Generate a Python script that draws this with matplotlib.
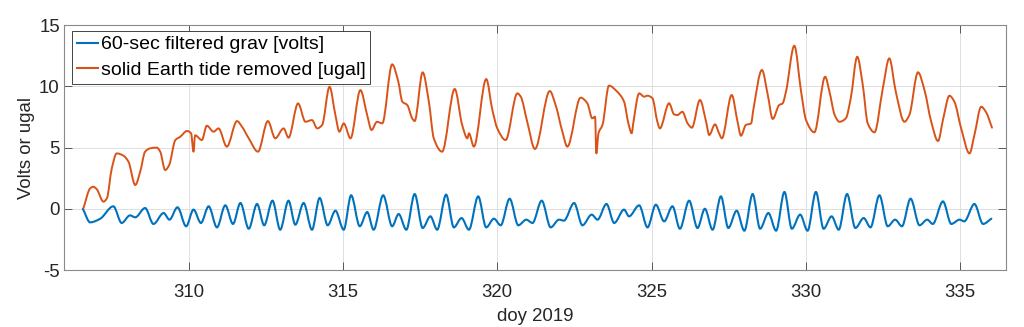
import numpy as np
import matplotlib
matplotlib.use("Agg")
import matplotlib.pyplot as plt
from matplotlib.path import Path
from matplotlib.patches import PathPatch
from matplotlib.lines import Line2D

# day of year / value pairs (turning points)
grav_day = [306.56, 306.80, 307.12, 307.55, 307.82, 308.09, 308.26, 308.58, 308.85, 309.18,
            309.37, 309.63, 309.91, 310.15, 310.39, 310.64, 310.91, 311.18, 311.43, 311.67,
            311.94, 312.21, 312.44, 312.71, 312.96, 313.23, 313.45, 313.72, 313.99, 314.24,
            314.50, 314.75, 315.02, 315.26, 315.54, 315.78, 315.99, 316.30, 316.59, 316.80,
            317.05, 317.32, 317.58, 317.83, 318.05, 318.34, 318.59, 318.84, 319.08, 319.38,
            319.64, 319.89, 320.11, 320.40, 320.68, 320.94, 321.14, 321.44, 321.73, 322.00,
            322.16, 322.49, 322.76, 323.06, 323.25, 323.54, 323.79, 324.11, 324.27, 324.60,
            324.87, 325.14, 325.41, 325.68, 325.92, 326.22, 326.49, 326.73, 326.98, 327.25,
            327.49, 327.76, 328.01, 328.28, 328.52, 328.79, 329.04, 329.31, 329.55, 329.82,
            330.06, 330.33, 330.58, 330.84, 331.07, 331.34, 331.61, 331.88, 332.10, 332.39,
            332.66, 332.90, 333.12, 333.40, 333.69, 333.94, 334.12, 334.45, 334.72, 334.99,
            335.14, 335.47, 335.75, 336.02]
grav_volts = [0.00, -1.11, -0.82, 0.20, -1.16, -0.54, -0.70, 0.06, -1.24, -0.35,
              -0.89, 0.12, -1.43, -0.07, -1.16, 0.20, -1.52, 0.28, -1.24, 0.47,
              -1.63, 0.39, -1.35, 0.66, -1.71, 0.66, -1.30, 0.47, -1.71, 0.88,
              -1.35, -0.16, -1.71, 1.10, -1.43, -0.27, -1.71, 1.10, -1.43, -0.43,
              -1.71, 1.20, -1.57, -0.62, -1.71, 1.15, -1.52, -0.76, -1.71, 1.01,
              -1.52, -0.81, -1.35, 0.82, -1.35, -0.89, -1.16, 0.66, -1.52, -0.89,
              -0.97, 0.47, -1.35, -0.48, -0.89, 0.39, -1.16, -0.07, -0.62, 0.28,
              -1.52, 0.33, -1.03, 0.20, -1.63, 0.66, -1.57, 0.00, -1.71, 1.01,
              -1.57, -0.16, -1.79, 1.20, -1.63, -0.35, -1.79, 1.37, -1.63, -0.48,
              -1.79, 1.37, -1.63, -0.62, -1.71, 1.20, -1.57, -0.76, -1.52, 1.10,
              -1.43, -0.89, -1.43, 0.82, -1.35, -0.89, -1.24, 0.60, -1.24, -0.89,
              -1.03, 0.39, -1.24, -0.81]

tide_day = [306.58, 306.80, 306.90, 307.01, 307.23, 307.34, 307.50, 307.66, 307.88, 308.04,
            308.26, 308.42, 308.58, 308.74, 308.96, 309.07, 309.23, 309.36, 309.56, 309.72,
            309.94, 310.07, 310.15, 310.20, 310.42, 310.58, 310.80, 310.96, 311.23, 311.56,
            311.72, 311.94, 312.24, 312.56, 312.80, 313.07, 313.23, 313.54, 313.78, 313.99,
            314.16, 314.32, 314.56, 314.75, 314.88, 315.02, 315.24, 315.56, 315.78, 315.92,
            316.10, 316.27, 316.59, 316.79, 316.92, 317.08, 317.24, 317.32, 317.58, 317.78,
            317.94, 318.21, 318.62, 318.86, 319.03, 319.08, 319.24, 319.64, 319.84, 320.00,
            320.27, 320.65, 320.76, 320.97, 321.22, 321.70, 321.89, 322.11, 322.27, 322.70,
            322.92, 323.08, 323.17, 323.21, 323.28, 323.41, 323.62, 323.87, 324.11, 324.25,
            324.36, 324.40, 324.60, 324.76, 324.87, 325.03, 325.19, 325.27, 325.57, 325.73,
            325.84, 326.00, 326.17, 326.31, 326.57, 326.77, 326.87, 327.06, 327.19, 327.28,
            327.60, 327.79, 327.90, 328.06, 328.23, 328.30, 328.58, 328.77, 328.93, 329.14,
            329.25, 329.36, 329.63, 329.85, 330.01, 330.28, 330.63, 330.77, 330.94, 331.09,
            331.30, 331.46, 331.67, 331.85, 332.01, 332.23, 332.50, 332.71, 332.92, 333.20,
            333.36, 333.64, 333.85, 334.07, 334.29, 334.46, 334.66, 334.82, 335.04, 335.31,
            335.47, 335.69, 335.85, 336.04]
tide_ugal = [0.04, 1.67, 1.80, 1.60, 0.58, 0.85, 3.30, 4.52, 4.33, 3.84,
             1.94, 3.02, 4.66, 4.93, 4.99, 4.66, 3.16, 3.57, 5.61, 5.88,
             6.35, 6.16, 4.66, 6.00, 5.61, 6.78, 6.29, 6.56, 5.07, 7.16,
             6.70, 5.75, 4.66, 7.16, 5.75, 6.56, 5.80, 8.60, 7.10, 7.24,
             6.56, 6.84, 9.96, 7.65, 6.29, 6.97, 5.75, 9.69, 7.65, 6.43,
             7.10, 6.97, 11.79, 10.37, 8.74, 8.47, 7.38, 7.16, 11.14, 8.74,
             5.75, 4.66, 9.78, 6.84, 5.75, 6.16, 5.07, 10.59, 8.06, 6.56,
             5.61, 9.42, 9.15, 7.10, 4.88, 9.61, 8.47, 6.29, 5.07, 9.07,
             8.61, 7.38, 7.52, 4.52, 6.16, 6.84, 10.05, 9.60, 8.74, 6.97,
             6.16, 6.84, 9.42, 9.15, 9.23, 9.02, 7.10, 6.56, 8.61, 7.71,
             7.65, 7.92, 6.97, 6.62, 8.88, 7.10, 6.02, 6.89, 6.16, 5.75,
             9.29, 7.10, 5.96, 6.84, 6.97, 8.06, 11.33, 9.29, 7.33, 8.47,
             8.60, 9.56, 13.31, 9.56, 7.24, 6.24, 10.78, 9.56, 7.65, 7.10,
             7.38, 9.02, 12.41, 10.10, 6.97, 6.24, 9.83, 12.28, 9.56, 7.10,
             7.65, 11.14, 9.69, 7.10, 5.53, 7.38, 9.23, 8.74, 6.56, 4.52,
             6.02, 8.33, 7.87, 6.62]

x_ticks = [310, 315, 320, 325, 330, 335]
y_ticks = [-5, 0, 5, 10, 15]

blue = '#0072BD'
orange = '#D95319'

plt.rcParams['font.family'] = ['Liberation Sans', 'DejaVu Sans']
plt.rcParams['axes.unicode_minus'] = False


def smooth_path(xs, ys):
    # monotone cubic bezier through the read points (flat at turning points)
    xs = np.asarray(xs, float)
    ys = np.asarray(ys, float)
    h = np.diff(xs)
    d = np.diff(ys) / h
    m = np.zeros(len(xs))
    m[0], m[-1] = d[0], d[-1]
    for i in range(1, len(xs) - 1):
        if d[i - 1] * d[i] > 0:
            w1 = 2 * h[i] + h[i - 1]
            w2 = h[i] + 2 * h[i - 1]
            m[i] = (w1 + w2) / (w1 / d[i - 1] + w2 / d[i])
    verts = [(xs[0], ys[0])]
    codes = [Path.MOVETO]
    for i in range(len(xs) - 1):
        verts += [(xs[i] + h[i] / 3, ys[i] + m[i] * h[i] / 3),
                  (xs[i + 1] - h[i] / 3, ys[i + 1] - m[i + 1] * h[i] / 3),
                  (xs[i + 1], ys[i + 1])]
        codes += [Path.CURVE4] * 3
    return Path(verts, codes)


fig = plt.figure(figsize=(10.24, 3.27), dpi=100)
ax = fig.add_axes([0.0625, 0.1743, 0.9195, 0.7492])

ax.add_patch(PathPatch(smooth_path(grav_day, grav_volts), facecolor='none',
                       edgecolor=blue, linewidth=1.5, capstyle='round'))
ax.add_patch(PathPatch(smooth_path(tide_day, tide_ugal), facecolor='none',
                       edgecolor=orange, linewidth=1.4, capstyle='round',
                       joinstyle='round'))

ax.set_xlim(305.95, 336.48)
ax.set_ylim(-5, 15)
ax.set_xticks(x_ticks)
ax.set_yticks(y_ticks)
ax.grid(True, color='#dedede', linewidth=0.7)
ax.set_axisbelow(True)

ax.tick_params(direction='in', length=5.5, width=0.6, color='#404040',
               labelcolor='#262626', labelsize=13.4, top=True, right=True)
ax.tick_params(axis='x', pad=10)
ax.tick_params(axis='y', pad=3)
for s in ax.spines.values():
    s.set_color('#8a8a8a')
    s.set_linewidth(0.8)

ax.set_xlabel('doy 2019', fontsize=13.4, color='#262626', labelpad=5)
ax.set_ylabel('Volts or ugal', fontsize=13.4, color='#262626', labelpad=3)

handles = [Line2D([], [], color=blue, linewidth=1.5),
           Line2D([], [], color=orange, linewidth=1.5)]
labels = ['60-sec filtered grav [volts]', 'solid Earth tide removed [ugal]']
leg = ax.legend(handles, labels, loc='upper left', bbox_to_anchor=(0.0082, 0.9755),
                borderaxespad=0, fontsize=14, frameon=True, fancybox=False, framealpha=1,
                handlelength=1.1, handletextpad=0.15, labelspacing=0.4,
                borderpad=0.25)
leg.get_frame().set_edgecolor('#262626')
leg.get_frame().set_linewidth(0.6)

fig.savefig('out.png', dpi=100)
